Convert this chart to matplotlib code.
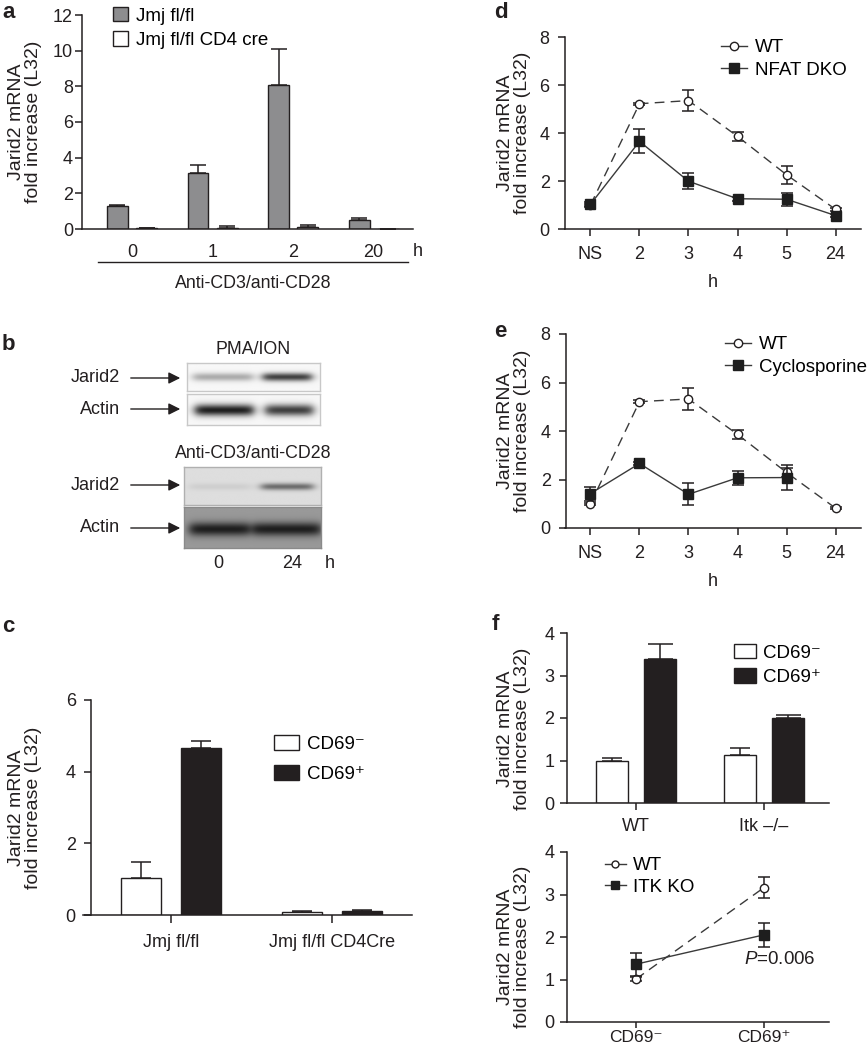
import matplotlib
matplotlib.use('Agg')
import matplotlib.pyplot as plt
from matplotlib.patches import Patch, FancyArrowPatch
from matplotlib.lines import Line2D
import numpy as np

plt.rcParams['font.family'] = ['Liberation Sans', 'DejaVu Sans']
plt.rcParams['mathtext.fontset'] = 'custom'
plt.rcParams['mathtext.rm'] = 'Liberation Sans'
plt.rcParams['mathtext.it'] = 'Liberation Sans:italic'

INK = '#231f20'
TICK_FS = 13
LEG_FS = 13.5
TXT_FS = 13

# ---- data ----
a_groups = ['0', '1', '2', '20']
a_flfl = [1.27, 3.16, 8.1, 0.49]
a_flfl_err = [0.1, 0.44, 2.0, 0.14]
a_cre = [0.04, 0.06, 0.11, 0.0]
a_cre_err = [0.0, 0.1, 0.09, 0.0]

b_lanes = ['0', '24']
b_pma_jarid2 = [0.35, 0.85]
b_pma_actin = [1.0, 0.85]
b_cd3_jarid2 = [0.08, 0.6]
b_cd3_actin = [1.0, 1.0]

c_groups = ['Jmj fl/fl', 'Jmj fl/fl CD4Cre']
c_neg = [1.02, 0.09]
c_neg_err = [0.47, 0.03]
c_pos = [4.67, 0.11]
c_pos_err = [0.19, 0.02]

de_times = ['NS', '2', '3', '4', '5', '24']
d_wt = [1.0, 5.22, 5.35, 3.86, 2.26, 0.82]
d_wt_err = [0.05, 0.05, 0.43, 0.19, 0.37, 0.05]
d_dko = [1.03, 3.65, 1.99, 1.26, 1.24, 0.56]
d_dko_err = [0.1, 0.5, 0.33, 0.09, 0.27, 0.05]

e_wt = [1.0, 5.21, 5.32, 3.86, 2.29, 0.82]
e_wt_err = [0.05, 0.05, 0.44, 0.2, 0.2, 0.05]
e_cyc = [1.42, 2.66, 1.39, 2.07, 2.08, np.nan]
e_cyc_err = [0.29, 0.05, 0.45, 0.29, 0.5, np.nan]

f_groups = ['WT', 'Itk \u2013/\u2013']
f_neg = [0.99, 1.13]
f_neg_err = [0.08, 0.16]
f_pos = [3.38, 2.01]
f_pos_err = [0.37, 0.05]

f2_groups = ['CD69\u207b', 'CD69\u207a']
f2_wt = [1.01, 3.16]
f2_wt_err = [0.05, 0.25]
f2_ko = [1.36, 2.05]
f2_ko_err = [0.27, 0.29]

W, H = 867, 1050
fig = plt.figure(figsize=(W / 100, H / 100), dpi=100)


def add_ax(l, t, r, b):
    return fig.add_axes([l / W, 1 - b / H, (r - l) / W, (b - t) / H])


def ftext(x, y, s, **kw):
    kw.setdefault('color', INK)
    return fig.text(x / W, 1 - y / H, s, **kw)


def style(ax, ypad=4, xpad=6, xlen=5):
    for s in ['top', 'right']:
        ax.spines[s].set_visible(False)
    for s in ['left', 'bottom']:
        ax.spines[s].set_linewidth(1.1)
        ax.spines[s].set_color(INK)
    ax.tick_params(direction='out', width=1.1, labelsize=TICK_FS, colors=INK)
    ax.tick_params(axis='y', length=5, pad=ypad)
    ax.tick_params(axis='x', length=xlen, pad=xpad)


def ylab(ax, right_px, left_px, width_px, yfrac=0.5):
    ax.set_ylabel('Jarid2 mRNA\nfold increase (L32)', fontsize=14,
                  color=INK, linespacing=1.0)
    ax.yaxis.set_label_coords((right_px - left_px) / width_px, yfrac)


def legend(ax, handles, labels, x, y, **kw):
    return ax.legend(handles, labels, loc='upper left',
                     bbox_to_anchor=(x / W, 1 - y / H),
                     bbox_transform=fig.transFigure, frameon=False,
                     borderpad=0, borderaxespad=0, fontsize=LEG_FS, **kw)


ERR = dict(ecolor=INK, elinewidth=1.1, capthick=1.1)

# ---- panel a ----
axa = add_ax(82, 15, 413, 229)
style(axa, ypad=1.5, xpad=11, xlen=0)
xa = np.arange(len(a_groups))
axa.bar(xa - 0.18, a_flfl, 0.26, color='#8d8d8f', edgecolor=INK, lw=1.0,
        yerr=[np.zeros(4), a_flfl_err], error_kw=dict(capsize=6, **ERR))
axa.bar(xa + 0.185, a_cre, 0.26, color='white', edgecolor=INK, lw=1.0,
        yerr=[np.zeros(4), a_cre_err], error_kw=dict(capsize=6, **ERR))
axa.set_xlim(-0.62, 3.49)
axa.set_ylim(0, 12)
axa.set_yticks(range(0, 13, 2))
axa.set_xticks(xa)
axa.set_xticklabels(a_groups)
ylab(axa, 42, 82, 331)
legend(axa, [Patch(facecolor='#8d8d8f', edgecolor=INK), Patch(facecolor='white', edgecolor=INK)],
       ['Jmj fl/fl', 'Jmj fl/fl CD4 cre'], 113, 7,
       handlelength=0.8, handleheight=0.8, handletextpad=0.4, labelspacing=0.35)
ftext(418, 252, 'h', fontsize=TXT_FS, ha='center', va='center')
fig.add_artist(Line2D([98 / W, 408 / W], [1 - 262 / H, 1 - 262 / H], color=INK, lw=1.0))
ftext(253, 283, 'Anti-CD3/anti-CD28', fontsize=12.75, ha='center', va='center')
ftext(2, 13, 'a', fontsize=16, fontweight='bold', va='center')

# ---- panel b (blots) ----


def blot(box, bg, bands, lanes, yc, ysig, edge):
    ax = add_ax(*box)
    h, w = 80, 260
    yy, xx = np.mgrid[0:1:h * 1j, 0:1:w * 1j]
    img = np.full((h, w), bg, dtype=float)
    for dark, (cx, hw) in zip(bands, lanes):
        xp = 1 / (1 + np.exp((np.abs(xx - cx) - hw) / 0.02))
        yp = np.exp(-((yy - yc) / ysig) ** 2)
        img -= (bg - 0.12) * dark * xp * yp
    ax.imshow(np.clip(img, 0, 1), cmap='gray', vmin=0, vmax=1,
              extent=(0, 1, 0, 1), aspect='auto', interpolation='bilinear')
    ax.set_xticks([])
    ax.set_yticks([])
    for s in ax.spines.values():
        s.set_color(edge)
        s.set_linewidth(1.0)
    return ax


blot((187, 363, 320, 391), 0.97, b_pma_jarid2, [(0.27, 0.225), (0.755, 0.185)], 0.5, 0.15, '#c8c8c8')
blot((187, 394, 320, 425), 0.97, b_pma_actin, [(0.28, 0.22), (0.77, 0.18)], 0.52, 0.19, '#c8c8c8')
blot((184, 467, 321, 505), 0.87, b_cd3_jarid2, [(0.26, 0.22), (0.755, 0.19)], 0.53, 0.09, '#b0b0b0')
blot((184, 507, 321, 548), 0.6, b_cd3_actin, [(0.26, 0.22), (0.75, 0.25)], 0.54, 0.17, '#8a8a8a')

ftext(2, 345, 'b', fontsize=16, fontweight='bold', va='center')
ftext(253, 350, 'PMA/ION', fontsize=12.75, ha='center', va='center')
ftext(253, 454, 'Anti-CD3/anti-CD28', fontsize=12.75, ha='center', va='center')
for name, y in [('Jarid2', 378), ('Actin', 409), ('Jarid2', 485), ('Actin', 528)]:
    ftext(120, y, name, fontsize=13, ha='right', va='center')
    fig.add_artist(FancyArrowPatch(
        (128 / W, 1 - y / H), (183 / W, 1 - y / H), transform=fig.transFigure,
        arrowstyle='-|>,head_length=7,head_width=3.5', color=INK, lw=1.0, mutation_scale=1))
ftext(218, 563, b_lanes[0], fontsize=TICK_FS, ha='center', va='center')
ftext(292, 563, b_lanes[1], fontsize=TICK_FS, ha='center', va='center')
ftext(330, 563, 'h', fontsize=TXT_FS, ha='center', va='center')

# ---- panel c ----
axc = add_ax(83, 700, 412, 915)
style(axc, ypad=6, xpad=8, xlen=6)
xc = np.arange(2)
axc.bar(xc - 0.186, c_neg, 0.248, color='white', edgecolor=INK, lw=1.0,
        yerr=[np.zeros(2), c_neg_err], error_kw=dict(capsize=7, **ERR))
axc.bar(xc + 0.186, c_pos, 0.248, color='#231f20', edgecolor=INK, lw=1.0,
        yerr=[np.zeros(2), c_pos_err], error_kw=dict(capsize=7, **ERR))
axc.set_xlim(-0.547, 1.497)
axc.spines['left'].set_position(('data', -0.497))
axc.set_ylim(0, 6)
axc.set_yticks([0, 2, 4, 6])
axc.set_xticks(xc)
axc.set_xticklabels(c_groups)
ylab(axc, 42, 83, 329)
legend(axc, [Patch(facecolor='white', edgecolor=INK), Patch(facecolor='#231f20', edgecolor=INK)],
       ['CD69\u207b', 'CD69\u207a'], 274, 735,
       handlelength=1.35, handleheight=0.85, handletextpad=0.4, labelspacing=0.65)
ftext(2, 627, 'c', fontsize=16, fontweight='bold', va='center')


# ---- panels d, e ----
def line_panel(box, spine_px, wt, wt_err, other, other_err, other_name, leg_xy, letter, letter_xy):
    ax = add_ax(*box)
    style(ax, ypad=6, xpad=7)
    x = np.arange(len(de_times))
    ax.errorbar(x, wt, yerr=wt_err, fmt='none', capsize=4, **ERR)
    ax.plot(x, wt, color='#3a3a3a', lw=1.0, ls=(0, (7, 4.5)), marker='o', ms=6,
            mfc='white', mec=INK, mew=1.0)
    ax.errorbar(x, other, yerr=other_err, fmt='none', capsize=4, **ERR)
    ax.plot(x, other, color='#3a3a3a', lw=1.0, marker='s', ms=7, mfc='#1e1e1e', mec='#1e1e1e')
    ax.set_xlim(-0.52, 5.52)
    ax.spines['left'].set_position(('data', (spine_px - 596) / 48))
    ax.set_ylim(0, 8)
    ax.set_yticks([0, 2, 4, 6, 8])
    ax.set_xticks(x)
    ax.set_xticklabels(de_times)
    ax.set_xlabel('h', fontsize=TXT_FS, color=INK, labelpad=8)
    hw = Line2D([], [], color='#3a3a3a', lw=1.0, marker='o', ms=6, mfc='white', mec=INK)
    hk = Line2D([], [], color='#3a3a3a', lw=1.0, marker='s', ms=7, mfc='#1e1e1e', mec='#1e1e1e')
    legend(ax, [hw, hk], ['WT', other_name], leg_xy[0], leg_xy[1],
           handlelength=1.4, handletextpad=0.4, labelspacing=0.3)
    ftext(letter_xy[0], letter_xy[1], letter, fontsize=16, fontweight='bold', va='center')
    ylab(ax, 531, box[0], box[2] - box[0])
    return ax


line_panel((565, 37, 861, 229), 571, d_wt, d_wt_err, d_dko, d_dko_err, 'NFAT DKO',
           (721, 39), 'd', (494, 13))
line_panel((565, 334, 861, 528), 572, e_wt, e_wt_err, e_cyc, e_cyc_err, 'Cyclosporine',
           (725, 336), 'e', (494, 332))

# ---- panel f top ----
axf = add_ax(567, 633, 829, 803)
style(axf, ypad=4, xpad=6)
xf = np.arange(2)
axf.bar(xf - 0.1875, f_neg, 0.25, color='white', edgecolor=INK, lw=1.0,
        yerr=[np.zeros(2), f_neg_err], error_kw=dict(capsize=7, **ERR))
axf.bar(xf + 0.1875, f_pos, 0.25, color='#231f20', edgecolor=INK, lw=1.0,
        yerr=[np.zeros(2), f_pos_err], error_kw=dict(capsize=9, **ERR))
axf.set_xlim(-0.54, 1.51)
axf.set_ylim(0, 4)
axf.set_yticks(range(5))
axf.set_xticks(xf)
axf.set_xticklabels(f_groups)
ylab(axf, 531, 567, 262, (803 - 729) / 170)
legend(axf, [Patch(facecolor='white', edgecolor=INK), Patch(facecolor='#231f20', edgecolor=INK)],
       ['CD69\u207b', 'CD69\u207a'], 734, 644,
       handlelength=1.15, handleheight=0.8, handletextpad=0.4, labelspacing=0.35)
ftext(492, 625, 'f', fontsize=16, fontweight='bold', va='center')

# ---- panel f bottom ----
axg = add_ax(567, 852, 829, 1022)
style(axg, ypad=4, xpad=1.5, xlen=4)
xg = np.arange(2)
axg.errorbar(xg, f2_wt, yerr=f2_wt_err, fmt='none', capsize=4, **ERR)
axg.plot(xg, f2_wt, color='#3a3a3a', lw=1.0, ls=(0, (7, 4.5)), marker='o', ms=6,
         mfc='white', mec=INK, mew=1.0)
axg.errorbar(xg, f2_ko, yerr=f2_ko_err, fmt='none', capsize=4, **ERR)
axg.plot(xg, f2_ko, color='#3a3a3a', lw=1.0, marker='s', ms=7, mfc='#1e1e1e', mec='#1e1e1e')
axg.set_xlim(-0.54, 1.51)
axg.set_ylim(0, 4)
axg.set_yticks(range(5))
axg.set_xticks(xg)
axg.set_xticklabels(f2_groups, fontsize=12.5)
ylab(axg, 531, 567, 262, (1022 - 947) / 170)
hw = Line2D([], [], color='#3a3a3a', lw=1.0, marker='o', ms=5, mfc='white', mec=INK)
hk = Line2D([], [], color='#3a3a3a', lw=1.0, marker='s', ms=6, mfc='#1e1e1e', mec='#1e1e1e')
legend(axg, [hw, hk], ['WT', 'ITK KO'], 605, 857,
       handlelength=1.1, handletextpad=0.4, labelspacing=0.25)
ftext(744, 960, '$P$=0.006', fontsize=LEG_FS, ha='left', va='center')

fig.savefig('out.png', dpi=100)
